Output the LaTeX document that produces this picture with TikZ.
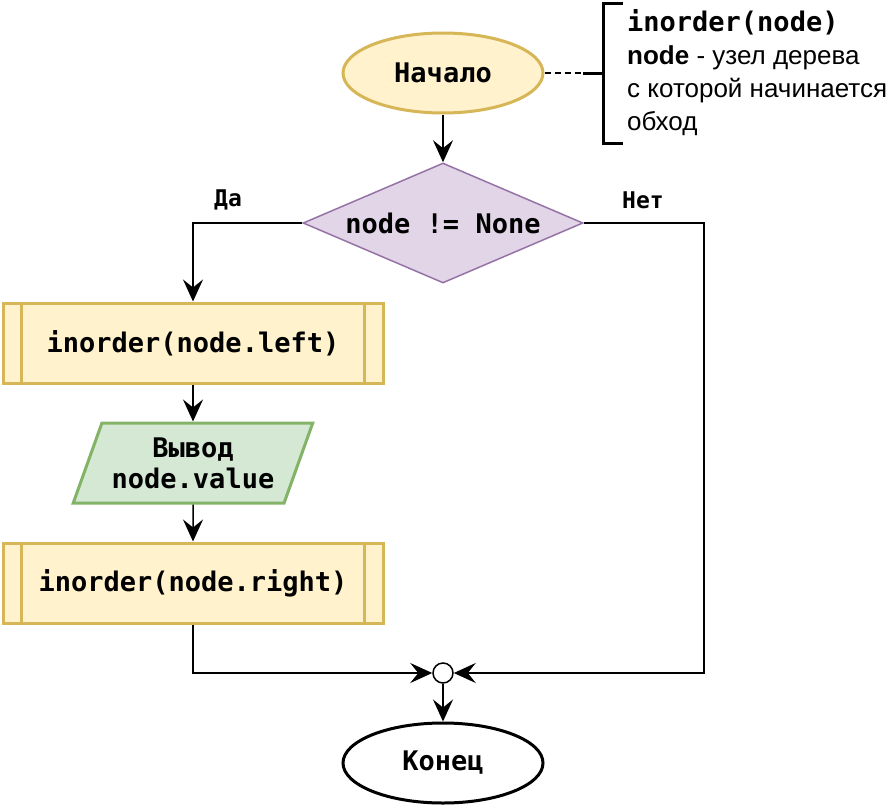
\documentclass[tikz,border=0pt]{standalone}
\usepackage{fontspec}
\setmainfont{Liberation Sans}
\newfontfamily\codefont{DejaVu Sans Mono}
\usetikzlibrary{shapes.geometric,arrows.meta}

\definecolor{yfill}{HTML}{FFF2CC}
\definecolor{ydraw}{HTML}{D6B656}
\definecolor{pfill}{HTML}{E1D5E7}
\definecolor{pdraw}{HTML}{9673A6}
\definecolor{gfill}{HTML}{D5E8D4}
\definecolor{gdraw}{HTML}{82B366}

\tikzset{
  code/.style={font=\codefont\bfseries\fontsize{27}{31}\selectfont},
  arr/.style={line width=1.5pt,-{Stealth[length=22pt,width=20pt,inset=8pt]}},
  term/.style={ellipse,code,line width=3pt,minimum width=200,minimum height=80,inner sep=0pt},
  subproc/.style={rectangle,code,draw=ydraw,fill=yfill,line width=3pt,minimum width=380,minimum height=80},
}

\begin{document}
\begin{tikzpicture}[x=1pt,y=-1pt]
    \useasboundingbox (0,0) rectangle (888,806);
    % Blok
    \node[term,draw=ydraw,fill=yfill] (start) at (443,73) {Начало};
    \node[diamond,code,draw=pdraw,fill=pfill,line width=1.5pt,aspect=2.33,
          minimum width=280,minimum height=120,inner sep=0pt] (cond) at (443,223) {node != None};
    \node[subproc] (left) at (193,343) {inorder(node.left)};
    \node[trapezium,trapezium left angle=63.4,trapezium right angle=116.6,trapezium stretches=true,
          code,draw=gdraw,fill=gfill,line width=3pt,minimum width=240,minimum height=80,
          align=center,inner sep=0pt] (out) at (193,463) {Вывод\\node.value};
    \node[subproc] (right) at (193,583) {inorder(node.right)};
    \node[circle,draw,fill=white,line width=1.5pt,minimum size=20,inner sep=0pt] (join) at (443,673) {};
    \node[term,draw=black,fill=white] (stop) at (443,763) {Конец};
    \foreach \n in {left,right} {
        \draw[ydraw,line width=3pt] ([xshift=20]\n.north west) -- ([xshift=20]\n.south west);
        \draw[ydraw,line width=3pt] ([xshift=-20]\n.north east) -- ([xshift=-20]\n.south east);
    }
    % Panah
    \draw[arr] (start) -- (cond);
    \draw[arr] (cond.west) -| (left.north);
    \draw[arr] (left) -- (out);
    \draw[arr] (out) -- (right);
    \draw[arr] (right.south) |- (join.west);
    \draw[arr] (cond.east) -- ++(120,0) |- (join.east);
    \draw[arr] (join) -- (stop);
    \node[code,font=\codefont\bfseries\fontsize{23}{27}\selectfont] (yes) at (228,200) {Да};
    \node[code,font=\codefont\bfseries\fontsize{23}{27}\selectfont] (no) at (643,200) {Нет};
    % Komentar
    \coordinate (brk) at (583,73);
    \draw[dash pattern=on 6pt off 4pt,line width=1.5pt] (start.east) -- (brk);
    \draw[line width=3pt] (brk) -- ++(20,0);
    \draw[line width=3pt] (623,3) -- (603,3) -- (603,143) -- (623,143);
    \node[anchor=west,align=left,inner sep=0pt,font=\fontsize{26}{33}\selectfont] (note) at (627,73)
        {{\codefont\bfseries\fontsize{27}{33}\selectfont inorder(node)}\\
         \textbf{node} - узел дерева\\
         с которой начинается\\
         обход};
\end{tikzpicture}
\end{document}
